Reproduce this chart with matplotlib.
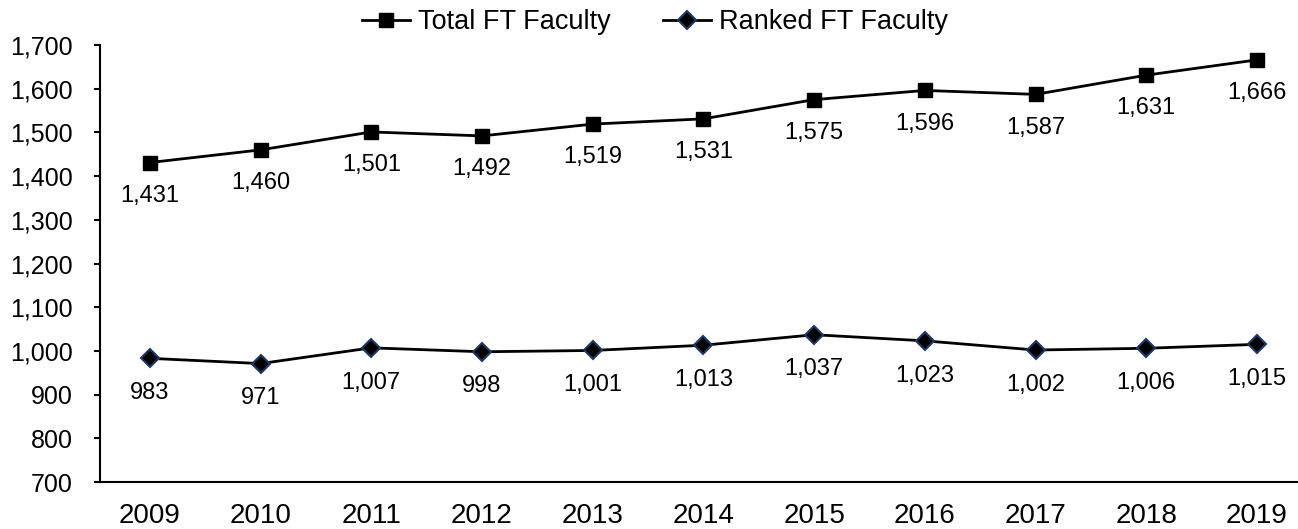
import matplotlib
matplotlib.use("Agg")
import matplotlib.pyplot as plt
from matplotlib.ticker import FuncFormatter

plt.rcParams['font.family'] = ['Liberation Sans', 'DejaVu Sans']

years = ["2009", "2010", "2011", "2012", "2013", "2014", "2015", "2016", "2017", "2018", "2019"]
total_ft = [1431, 1460, 1501, 1492, 1519, 1531, 1575, 1596, 1587, 1631, 1666]
ranked_ft = [983, 971, 1007, 998, 1001, 1013, 1037, 1023, 1002, 1006, 1015]

fig = plt.figure(figsize=(12.98, 5.29), dpi=100)
ax = fig.add_axes([100/1298, 1 - 482/529, 1 - 100/1298, (482 - 45)/529])

x = list(range(len(years)))
ax.plot(x, total_ft, color='black', lw=2, marker='s', markersize=10,
        markerfacecolor='black', markeredgecolor='black', label='Total FT Faculty', clip_on=False)
ax.plot(x, ranked_ft, color='black', lw=2, marker='D', markersize=9,
        markerfacecolor='black', markeredgecolor='#1F3864', markeredgewidth=1.5,
        label='Ranked FT Faculty', clip_on=False)

for xi, v in zip(x, total_ft):
    ax.annotate(f"{v:,}", (xi, v), xytext=(0, -24), textcoords='offset points',
                ha='center', va='center', fontsize=17)
for xi, v in zip(x, ranked_ft):
    ax.annotate(f"{v:,}", (xi, v), xytext=(0, -25), textcoords='offset points',
                ha='center', va='center', fontsize=17)

ax.set_ylim(700, 1700)
ax.set_yticks(range(700, 1701, 100))
ax.yaxis.set_major_formatter(FuncFormatter(lambda v, p: f"{int(v):,}"))
ax.set_xlim(-0.45, 10.37)
ax.set_xticks(x)
ax.set_xticklabels(years)
ax.tick_params(axis='y', direction='out', length=4.5, width=1.5, labelsize=18, pad=15)
ax.tick_params(axis='x', length=0, labelsize=20, pad=15)
for s in ['top', 'right']:
    ax.spines[s].set_visible(False)
ax.spines['left'].set_linewidth(1.5)
ax.spines['bottom'].set_linewidth(1.5)

fig.legend(loc='center', bbox_to_anchor=(655/1298, 1 - 22/529), ncol=2, frameon=False,
           fontsize=19.5, handlelength=1.8, handletextpad=0.3, columnspacing=1.9,
           borderpad=0, borderaxespad=0)

fig.savefig("out.png", dpi=100)
